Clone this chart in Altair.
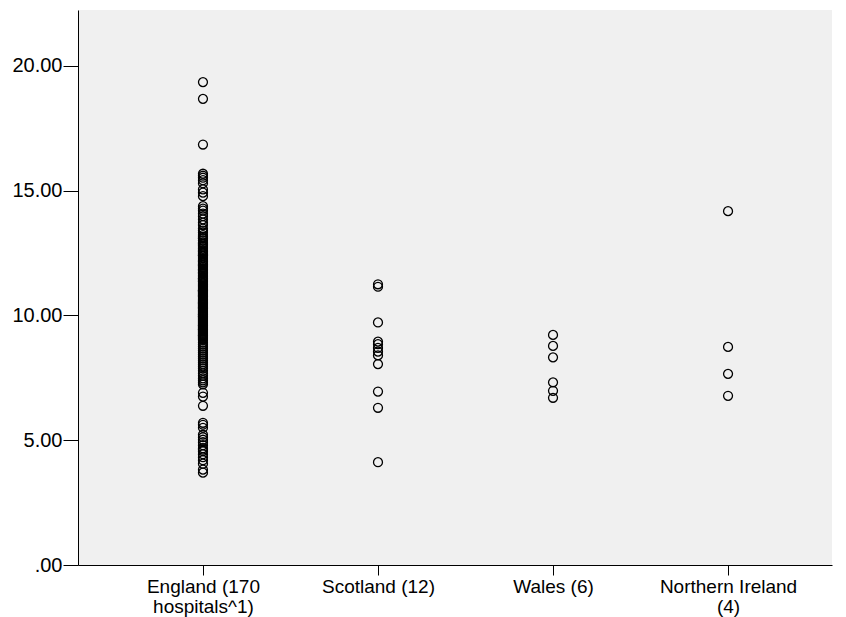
import altair as alt
import pandas as pd

# Hospital rates by nation, one value per hospital
categories = ["England (170|hospitals^1)", "Scotland (12)", "Wales (6)", "Northern Ireland|(4)"]

england = [
    19.35, 18.68, 16.85,
    15.68, 15.6, 15.52, 15.42, 15.3, 15.05, 14.92, 14.78,
    14.38, 14.28, 14.2, 14.08, 13.98, 13.85, 13.72, 13.62,
    13.48, 13.4, 13.32, 13.22, 13.15, 13.08, 13.0, 12.92, 12.85, 12.8,
    12.74, 12.68, 12.62, 12.55, 12.5, 12.45, 12.38, 12.3, 12.22, 12.15,
    12.1, 12.05, 12.0, 11.95, 11.9, 11.84, 11.78, 11.72, 11.66, 11.6,
    11.55, 11.5, 11.46, 11.42, 11.36, 11.3, 11.25, 11.2, 11.15, 11.1,
    11.05, 11.0, 10.96, 10.92, 10.88, 10.84, 10.8, 10.75, 10.7, 10.65,
    10.6, 10.56, 10.52, 10.48, 10.44, 10.4, 10.36, 10.32, 10.27, 10.22,
    10.18, 10.14, 10.1, 10.06, 10.02, 9.98, 9.94, 9.9, 9.86, 9.82,
    9.78, 9.74, 9.7, 9.66, 9.62, 9.58, 9.54, 9.5, 9.46, 9.42,
    9.38, 9.34, 9.3, 9.26, 9.22, 9.18, 9.14, 9.1, 9.06, 9.02,
    12.58, 12.02, 11.48, 10.98, 10.5, 10.04, 9.6, 9.2, 11.82, 12.88,
    13.1, 12.4, 11.7, 11.0, 10.3, 9.96, 9.44, 10.78, 11.38, 12.18,
    8.92, 8.84, 8.76, 8.68, 8.6, 8.52, 8.44, 8.36, 8.28, 8.2, 8.12,
    8.04, 7.96, 7.88, 7.78, 7.68, 7.58, 7.48, 7.4, 7.32, 7.24,
    6.9, 6.75, 6.38,
    5.7, 5.62, 5.5, 5.22, 5.12, 5.02, 4.92, 4.8, 4.68, 4.56, 4.44,
    4.32, 4.2, 4.06, 3.82, 3.7, 4.62,
]
scotland = [11.25, 11.15, 9.72, 8.95, 8.85, 8.7, 8.55, 8.4, 8.05, 6.95, 6.3, 4.12]
wales = [9.22, 8.78, 8.32, 7.32, 6.98, 6.7]
northern_ireland = [14.18, 8.74, 7.66, 6.78]

y_ticks = [0, 5, 10, 15, 20]

rows = []
for pos, vals in enumerate([england, scotland, wales, northern_ireland], start=1):
    rows += [{"pos": pos, "nation": categories[pos - 1], "value": v} for v in vals]
df = pd.DataFrame(rows)

# Multi-line category labels for the x axis (lines separated by "|")
label_array = "[" + ", ".join(
    "[" + ", ".join("'" + part + "'" for part in c.split("|")) + "]" for c in categories
) + "]"
x_label_expr = f"{label_array}[datum.value - 1]"

FONT = "Liberation Sans"

chart = (
    alt.Chart(df)
    .mark_point(shape="circle", filled=False, color="black", size=80, strokeWidth=1.3, opacity=1)
    .encode(
        x=alt.X(
            "pos:Q",
            scale=alt.Scale(domain=[0.286, 4.594], nice=False, zero=False),
            axis=alt.Axis(
                title=None,
                values=[1, 2, 3, 4],
                labelAngle=0,
                labelExpr=x_label_expr,
                labelFont=FONT,
                labelFontSize=19,
                labelColor="black",
                labelLineHeight=20,
                labelPadding=2,
                labelFlush=False,
                labelOverlap=False,
                tickSize=10,
                tickColor="black",
                domainColor="black",
                grid=False,
            ),
        ),
        y=alt.Y(
            "value:Q",
            scale=alt.Scale(domain=[0, 22.24], nice=False, zero=True),
            axis=alt.Axis(
                title=None,
                values=y_ticks,
                labelExpr="datum.value == 0 ? '.00' : format(datum.value, '.2f')",
                labelFont=FONT,
                labelFontSize=20,
                labelColor="black",
                labelPadding=1,
                labelFlush=False,
                tickSize=15,
                tickColor="black",
                domainColor="black",
                grid=False,
            ),
        ),
        tooltip=["nation:N", "value:Q"],
    )
    .properties(
        width=754,
        height=555,
        autosize=alt.AutoSizeParams(type="none"),
        padding={"left": 78, "top": 10, "right": 14, "bottom": 52},
        background="white",
    )
    .configure_view(fill="#f0f0f0", stroke=None)
)

chart.save("out.html", embed_options={"renderer": "svg", "actions": False})
